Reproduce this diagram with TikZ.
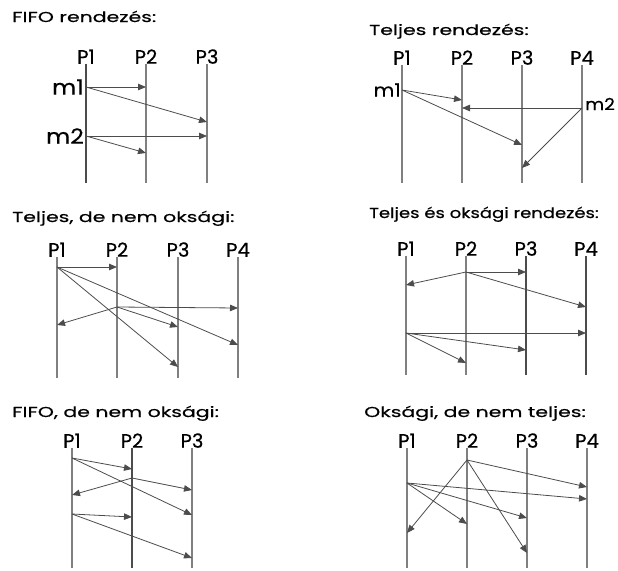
\documentclass[tikz,border=0pt]{standalone}
\usepackage{fontspec}
\setmainfont{Poppins}
\newfontfamily\ttlfont{Poppins}[FakeStretch=1.42,FakeBold=0.5]
\newfontfamily\ttlnfont{Poppins}[FakeStretch=1.25,FakeBold=0.5]
\newfontfamily\mfont{Poppins}[FakeStretch=1.12,FakeBold=0.4]
\newfontfamily\pfont{Poppins}[FakeBold=0.5]
\usetikzlibrary{arrows.meta,positioning}

\begin{document}
\begin{tikzpicture}[
  x=1pt, y=-1pt,
  ttl/.style={anchor=base west, inner sep=0pt, font=\ttlfont\fontsize{14.4}{17}\selectfont},
  plbl/.style={anchor=south, inner sep=0pt, font=\pfont\fontsize{19.5}{21}\selectfont},
  mlbl/.style={inner sep=0pt, font=\mfont\fontsize{18}{20}\selectfont},
  proc/.style={draw=black!50, line width=1.1pt},
  procd/.style={draw=black!70, line width=1.3pt},
  msg/.style={draw=black!70, line width=0.8pt, -{Triangle[length=8pt,width=6.5pt]}},
]
\useasboundingbox (0,0) rectangle (618,570);

% FIFO rendezes
\node[ttl] (tA) at (12,22) {FIFO rendezés:};
\foreach \i/\x in {1/86,2/146,3/207} {
  \node[plbl] (A\i) at (\x,64) {P\i};
  \coordinate (A\i-b) at (\x,183);
}
\draw[procd] (A1) -- (A1-b);
\draw[proc] (A2) -- (A2-b);
\draw[proc] (A3) -- (A3-b);
\coordinate (As1) at (A1 |- 0,87); \coordinate (As2) at (A1 |- 0,136);
\node[mlbl, left=2pt of As1, font=\mfont\fontsize{21}{23}\selectfont] (Am1) {m1};
\node[mlbl, left=2pt of As2, font=\mfont\fontsize{21}{23}\selectfont] (Am2) {m2};
\coordinate (At1) at (A2 |- 0,87);  \coordinate (At2) at (A3 |- 0,122);
\coordinate (At3) at (A3 |- 0,136); \coordinate (At4) at (A2 |- 0,153);
\draw[msg] (As1) -- (At1);
\draw[msg] (As1) -- (At2);
\draw[msg] (As2) -- (At3);
\draw[msg] (As2) -- (At4);

% Teljes rendezes
\node[ttl] (tB) at (369,35) {Teljes rendezés:};
\foreach \i/\x in {1/402,2/462,3/522,4/582} {
  \node[plbl] (B\i) at (\x,65) {P\i};
  \coordinate (B\i-b) at (\x,183);
  \draw[proc] (B\i) -- (B\i-b);
}
\coordinate (Bs1) at (B1 |- 0,90); \coordinate (Bs2) at (B4 |- 0,108);
\node[mlbl, left=1pt of Bs1] (Bm1) {m1};
\node[mlbl, right=3pt of Bs2, yshift=4pt, font=\mfont\fontsize{16.5}{18}\selectfont] (Bm2) {m2};
\coordinate (Bt1) at (B2 |- 0,100); \coordinate (Bt2) at (B3 |- 0,145);
\coordinate (Bt3) at (B2 |- 0,108); \coordinate (Bt4) at (B3 |- 0,168);
\draw[msg] (Bs1) -- (Bt1);
\draw[msg] (Bs1) -- (Bt2);
\draw[msg] (Bs2) -- (Bt3);
\draw[msg] (Bs2) -- (Bt4);

% Teljes, de nem oksagi
\node[ttl] (tC) at (12,222) {Teljes, de nem oksági:};
\foreach \i/\x in {1/57,2/117,3/178,4/238} {
  \node[plbl] (C\i) at (\x,257) {P\i};
  \coordinate (C\i-b) at (\x,378);
  \draw[proc] (C\i) -- (C\i-b);
}
\coordinate (Cs1) at (C1 |- 0,267); \coordinate (Cs2) at (C2 |- 0,307);
\coordinate (Ct1) at (C2 |- 0,267); \coordinate (Ct2) at (C4 |- 0,345);
\coordinate (Ct3) at (C3 |- 0,367); \coordinate (Ct4) at (C1 |- 0,325);
\coordinate (Ct5) at (C3 |- 0,327); \coordinate (Ct6) at (C4 |- 0,308);
\draw[msg] (Cs1) -- (Ct1);
\draw[msg] (Cs1) -- (Ct2);
\draw[msg] (Cs1) -- (Ct3);
\draw[msg] (Cs2) -- (Ct4);
\draw[msg] (Cs2) -- (Ct5);
\draw[msg] (Cs2) -- (Ct6);

% Teljes es oksagi rendezes
\node[ttl, font=\ttlnfont\fontsize{14.4}{17}\selectfont] (tD) at (369,218) {Teljes és oksági rendezés:};
\foreach \i/\x in {1/406,2/466,3/526,4/586} {
  \node[plbl] (D\i) at (\x,256) {P\i};
  \coordinate (D\i-b) at (\x,375);
}
\draw[proc] (D1) -- (D1-b);
\draw[proc] (D2) -- (D2-b);
\draw[procd] (D3) -- (D3-b);
\draw[procd] (D4) -- (D4-b);
\coordinate (Ds1) at (D2 |- 0,272); \coordinate (Ds2) at (D1 |- 0,333);
\coordinate (Dt1) at (D3 |- 0,272); \coordinate (Dt2) at (D1 |- 0,285);
\coordinate (Dt3) at (D4 |- 0,307); \coordinate (Dt4) at (D4 |- 0,333);
\coordinate (Dt5) at (D3 |- 0,350); \coordinate (Dt6) at (D2 |- 0,363);
\draw[msg] (Ds1) -- (Dt1);
\draw[msg] (Ds1) -- (Dt2);
\draw[msg] (Ds1) -- (Dt3);
\draw[msg] (Ds2) -- (Dt4);
\draw[msg] (Ds2) -- (Dt5);
\draw[msg] (Ds2) -- (Dt6);

% FIFO, de nem oksagi
\node[ttl] (tE) at (12,417) {FIFO, de nem oksági:};
\foreach \i/\x in {1/72,2/132,3/192} {
  \node[plbl] (E\i) at (\x,448) {P\i};
  \coordinate (E\i-b) at (\x,568);
}
\draw[proc] (E1) -- (E1-b);
\draw[procd] (E2) -- (E2-b);
\draw[proc] (E3) -- (E3-b);
\coordinate (Es1) at (E1 |- 0,458); \coordinate (Es2) at (E2 |- 0,478);
\coordinate (Es3) at (E1 |- 0,514);
\coordinate (Et1) at (E2 |- 0,469); \coordinate (Et2) at (E3 |- 0,515);
\coordinate (Et3) at (E1 |- 0,495); \coordinate (Et4) at (E3 |- 0,490);
\coordinate (Et5) at (E2 |- 0,517); \coordinate (Et6) at (E3 |- 0,558);
\draw[msg] (Es1) -- (Et1);
\draw[msg] (Es1) -- (Et2);
\draw[msg] (Es2) -- (Et3);
\draw[msg] (Es2) -- (Et4);
\draw[msg] (Es3) -- (Et5);
\draw[msg] (Es3) -- (Et6);

% Oksagi, de nem teljes
\node[ttl] (tF) at (364,417) {Oksági, de nem teljes:};
\foreach \i/\x in {1/407,2/467,3/527,4/587} {
  \node[plbl] (F\i) at (\x,448) {P\i};
  \coordinate (F\i-b) at (\x,568);
  \draw[proc] (F\i) -- (F\i-b);
}
\coordinate (Fs1) at (F2 |- 0,460); \coordinate (Fs2) at (F1 |- 0,483);
\coordinate (Ft1) at (F4 |- 0,487); \coordinate (Ft2) at (F1 |- 0,533);
\coordinate (Ft3) at (F3 |- 0,553); \coordinate (Ft4) at (F4 |- 0,499);
\coordinate (Ft5) at (F3 |- 0,518); \coordinate (Ft6) at (F2 |- 0,524);
\draw[msg] (Fs1) -- (Ft1);
\draw[msg] (Fs1) -- (Ft2);
\draw[msg] (Fs1) -- (Ft3);
\draw[msg] (Fs2) -- (Ft4);
\draw[msg] (Fs2) -- (Ft5);
\draw[msg] (Fs2) -- (Ft6);
\end{tikzpicture}
\end{document}
